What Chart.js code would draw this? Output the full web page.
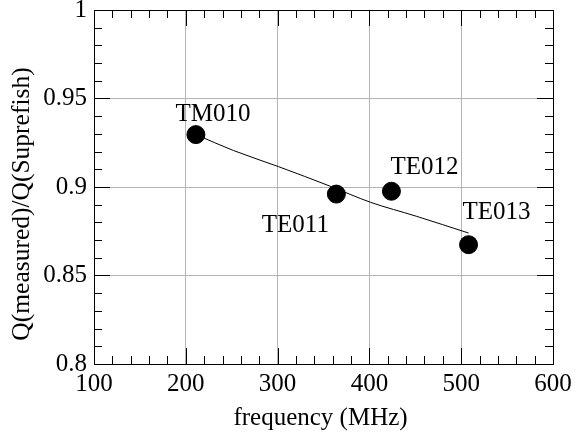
<!DOCTYPE html>
<html>
<head>
<meta charset="utf-8">
<script src="https://cdn.jsdelivr.net/npm/chart.js@4"></script>
<style>
  html, body { margin: 0; padding: 0; background: #fff; }
  #wrap { width: 584px; height: 435px; }
</style>
</head>
<body>
<div id="wrap"><canvas id="c" width="584" height="435"></canvas></div>
<script>
// mesures
const modes = ['TM010', 'TE011', 'TE012', 'TE013'];
const freq = [211, 364, 424, 508];
const ratio = [0.9296, 0.896, 0.8976, 0.8674];

// courbe d'ajustement
const fitFreq = [211, 252, 301, 357, 401, 451, 508];
const fitRatio = [0.9296, 0.9206, 0.9115, 0.9005, 0.8914, 0.8835, 0.874];

const xTicks = [100, 200, 300, 400, 500, 600];
const yTicks = [0.8, 0.85, 0.9, 0.95, 1];

const titreX = 'frequency (MHz)';
const titreY = 'Q(measured)/Q(Suprefish)';

const police = "'Liberation Serif', serif";

// position des étiquettes par rapport au point (px)
const decalages = [[17, -14], [-41, 38], [33, -17], [28, -26]];

const ticksCadre = {
  id: 'ticksCadre',
  afterDatasetsDraw(chart) {
    const ctx = chart.ctx;
    const a = chart.chartArea;
    const xs = chart.scales.x, ys = chart.scales.y;
    ctx.save();
    ctx.strokeStyle = '#000';
    ctx.lineWidth = 1;
    ctx.beginPath();
    for (let v = 100; v <= 600; v += 20) {
      const px = Math.round(xs.getPixelForValue(v)) + 0.5;
      const len = (v % 100 === 0) ? 16 : 8;
      ctx.moveTo(px, a.bottom); ctx.lineTo(px, a.bottom - len);
      ctx.moveTo(px, a.top); ctx.lineTo(px, a.top + len);
    }
    for (let i = 0; i <= 20; i++) {
      const v = 0.8 + i * 0.01;
      const py = Math.round(ys.getPixelForValue(v)) + 0.5;
      const len = (i % 5 === 0) ? 16 : 8;
      ctx.moveTo(a.left, py); ctx.lineTo(a.left + len, py);
      ctx.moveTo(a.right, py); ctx.lineTo(a.right - len, py);
    }
    ctx.stroke();
    ctx.strokeRect(Math.round(a.left) + 0.5, Math.round(a.top) + 0.5,
      Math.round(a.right - a.left), Math.round(a.bottom - a.top));

    ctx.fillStyle = '#000';
    ctx.textAlign = 'center';
    ctx.textBaseline = 'alphabetic';

    // étiquettes des modes
    ctx.font = '25px ' + police;
    modes.forEach((m, i) => {
      const px = xs.getPixelForValue(freq[i]);
      const py = ys.getPixelForValue(ratio[i]);
      ctx.fillText(m, px + decalages[i][0], py + decalages[i][1]);
    });

    // titres des axes
    ctx.fillText(titreX, (a.left + a.right) / 2 - 3, 425);
    ctx.save();
    ctx.translate(29, 204);
    ctx.rotate(-Math.PI / 2);
    ctx.font = '25.5px ' + police;
    ctx.fillText(titreY, 0, 0);
    ctx.restore();
    ctx.restore();
  }
};

new Chart(document.getElementById('c'), {
  type: 'scatter',
  data: {
    datasets: [
      {
        type: 'line',
        data: fitFreq.map((f, i) => ({ x: f, y: fitRatio[i] })),
        borderColor: '#000',
        borderWidth: 1,
        pointRadius: 0,
        cubicInterpolationMode: 'monotone',
        fill: false,
        order: 2
      },
      {
        data: freq.map((f, i) => ({ x: f, y: ratio[i] })),
        backgroundColor: '#000',
        borderColor: '#000',
        pointRadius: 9,
        order: 1
      }
    ]
  },
  options: {
    responsive: false,
    animation: false,
    devicePixelRatio: 1,
    layout: { padding: { left: 6, right: 31, top: 9, bottom: 2 } },
    plugins: { legend: { display: false }, tooltip: { enabled: false } },
    scales: {
      x: {
        type: 'linear',
        min: 100, max: 600,
        afterBuildTicks(s) { s.ticks = xTicks.map(v => ({ value: v })); },
        afterFit(s) { s.height = 69; s.paddingLeft = 0; s.paddingRight = 0; },
        grid: { color: '#b4b4b4', drawTicks: false, lineWidth: 1 },
        border: { display: false },
        ticks: { color: '#000', font: { family: police, size: 25 }, padding: 5, maxRotation: 0 }
      },
      y: {
        type: 'linear',
        min: 0.8, max: 1,
        afterBuildTicks(s) { s.ticks = yTicks.map(v => ({ value: v })); },
        afterFit(s) { s.width = 88; s.paddingTop = 0; s.paddingBottom = 0; },
        grid: { color: '#b4b4b4', drawTicks: false, lineWidth: 1 },
        border: { display: false },
        ticks: { color: '#000', font: { family: police, size: 25 }, padding: 7, callback: v => String(+v.toFixed(2)) }
      }
    }
  },
  plugins: [ticksCadre]
});
</script>
</body>
</html>
